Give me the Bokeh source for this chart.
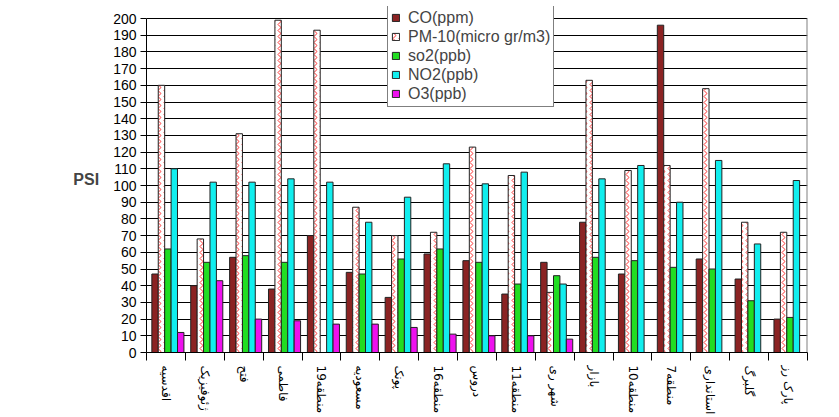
import math
from bokeh.plotting import figure
from bokeh.models import (ColumnDataSource, Range1d, FixedTicker, Legend, LegendItem)
from bokeh.embed import file_html
from bokeh.resources import INLINE

stations = ["اقدسیه", "ژئوفیزیک", "فتح", "فاطمی", "منطقه19", "مسعودیه", "پونک",
            "منطقه16", "دروس", "منطقه11", "شهر ری", "بازار", "منطقه10", "منطقه7",
            "استانداری", "گلبرگ", "پارک رز"]
co = [47, 40, 57, 38, 70, 48, 33, 59, 55, 35, 54, 78, 47, 196, 56, 44, 20]
pm10 = [160, 68, 131, 199, 193, 87, 70, 72, 123, 106, 36, 163, 109, 112, 158, 78, 72]
so2 = [62, 54, 58, 54, None, 47, 56, 62, 54, 41, 46, 57, 55, 51, 50, 31, 21]
no2 = [110, 102, 102, 104, 102, 78, 93, 113, 101, 108, 41, 104, 112, 90, 115, 65, 103]
o3 = [12, 43, 20, 19, 17, 17, 15, 11, 10, 10, 8, None, None, None, None, None, None]
series_names = ["CO(ppm)", "PM-10(micro gr/m3)", "so2(ppb)", "NO2(ppb)", "O3(ppb)"]
y_ticks = list(range(0, 201, 10))
y_max = 200

n = len(stations)
p = figure(width=839, height=417, output_backend="svg", toolbar_location=None,
           x_range=Range1d(-0.5, n - 0.5), y_range=Range1d(0, 207.2),
           min_border_left=146, min_border_right=32, min_border_top=6, min_border_bottom=64)
p.background_fill_color = "white"
p.border_fill_color = "white"
p.outline_line_color = None

# back-wall right edge
p.segment(x0=[n - 0.5], y0=[0], x1=[n - 0.5], y1=[y_max], line_color="#808080", line_width=2)

offsets = [-0.28, -0.115, 0.05, 0.215, 0.38]
width = 0.165
colors = ["#8B2323", "white", "#22DD22", "#11EEEE", "#EE11EE"]
renderers = []
for k, vals in enumerate([co, pm10, so2, no2, o3]):
    xs = [i + offsets[k] for i, v in enumerate(vals) if v is not None]
    tops = [v for v in vals if v is not None]
    src = ColumnDataSource(dict(x=xs, top=tops))
    kw = dict(x="x", top="top", bottom=0, width=width, source=src,
              fill_color=colors[k], line_color="#222222", line_width=1)
    if k == 1:
        kw.update(hatch_pattern="vertical_wave", hatch_color="#FF3030",
                  hatch_scale=6, hatch_weight=1)
    r = p.vbar(**kw)
    renderers.append(r)

# y axis
p.yaxis.ticker = FixedTicker(ticks=y_ticks)
p.yaxis.bounds = (0, y_max)
p.yaxis.major_label_text_font = "Liberation Sans"
p.yaxis.major_label_text_font_size = "14px"
p.yaxis.major_label_text_color = "black"
p.yaxis.major_tick_out = 6
p.yaxis.major_tick_in = 0
p.yaxis.minor_tick_line_color = None
p.yaxis.major_label_standoff = 4
p.yaxis.axis_line_color = "black"
p.yaxis.major_tick_line_color = "black"
p.yaxis.axis_label = "PSI"
p.yaxis.axis_label_orientation = "horizontal"
p.yaxis.axis_label_text_font = "Liberation Sans"
p.yaxis.axis_label_text_font_style = "bold"
p.yaxis.axis_label_text_font_size = "16px"
p.yaxis.axis_label_standoff = 11

# x axis
centers = list(range(n))
bounds = [i - 0.5 for i in range(n + 1)]
p.xaxis.ticker = FixedTicker(ticks=centers, minor_ticks=bounds)
p.xaxis.major_label_overrides = {i: "\u202b" + s + "\u202c" for i, s in enumerate(stations)}
p.xaxis.major_label_orientation = -math.pi / 2
p.xaxis.major_label_text_font = "DejaVu Sans"
p.xaxis.major_label_text_font_size = "12px"
p.xaxis.major_label_text_color = "black"
p.xaxis.major_tick_out = 0
p.xaxis.major_tick_in = 0
p.xaxis.minor_tick_out = 8
p.xaxis.minor_tick_in = 0
p.xaxis.minor_tick_line_color = "black"
p.xaxis.major_label_standoff = 5
p.xaxis.axis_line_color = "black"

p.xgrid.grid_line_color = None
p.ygrid.grid_line_color = "black"
p.ygrid.grid_line_width = 1

legend = Legend(items=[LegendItem(label=series_names[k], renderers=[renderers[k]]) for k in range(5)],
                location=(241, 245))
legend.label_text_font = "Liberation Sans"
legend.label_text_font_size = "16px"
legend.label_height = 19
legend.glyph_height = 9
legend.glyph_width = 9
legend.spacing = 0
legend.padding = 3
legend.margin = 0
legend.label_standoff = 8
legend.border_line_color = "black"
legend.border_line_width = 1
legend.background_fill_color = "white"
legend.background_fill_alpha = 1
p.add_layout(legend)

open("out.html", "w").write(file_html(p, INLINE))
